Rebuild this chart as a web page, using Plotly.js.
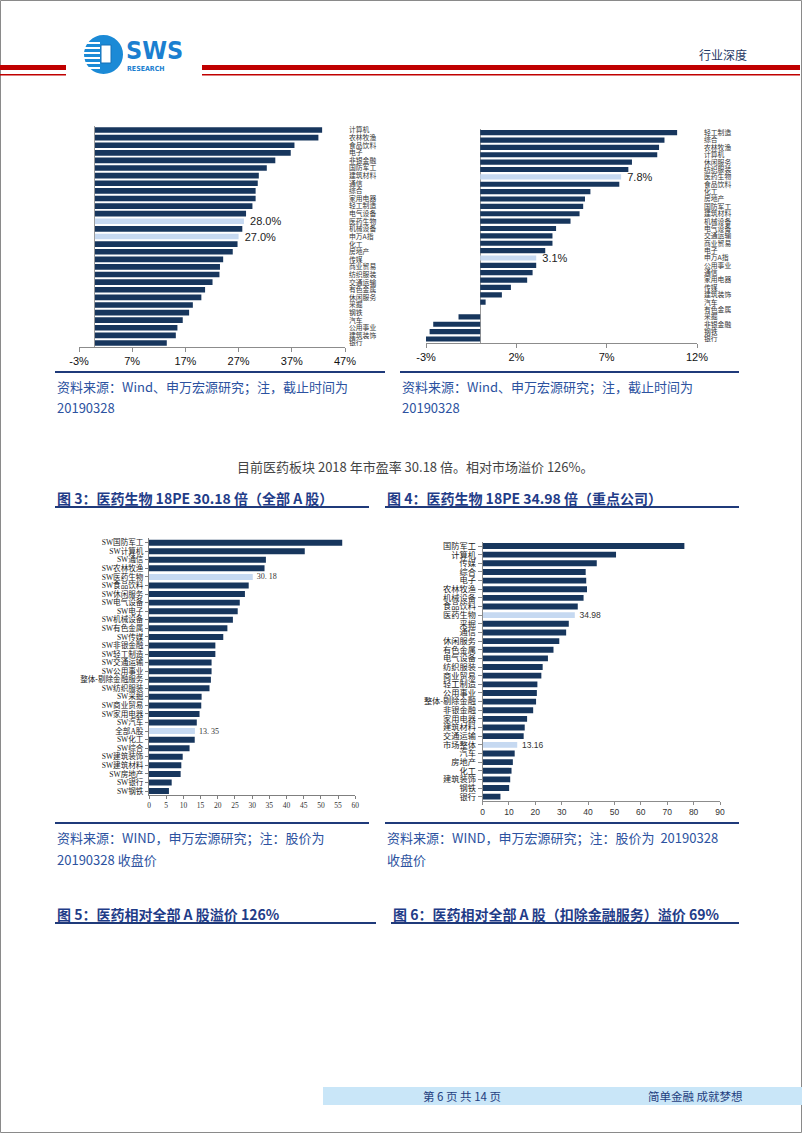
<!DOCTYPE html>
<html><head><meta charset="utf-8">
<script src="https://cdn.plot.ly/plotly-3.0.1.min.js"></script>
<style>html,body{margin:0;padding:0;background:#fff;}#page{width:802px;height:1133px;}</style>
</head><body><div id="page"></div>
<script>
// ---------- DATA ----------
const c1Cats = ['计算机','农林牧渔','食品饮料','电子','非银金融','国防军工','建筑材料','通信','综合','家用电器','轻工制造','电气设备','医药生物','机械设备','申万A指','化工','房地产','传媒','商业贸易','纺织服装','交通运输','有色金属','休闲服务','采掘','钢铁','汽车','公用事业','建筑装饰','银行'];
const c1Vals = [42.7,42.0,37.5,36.8,33.9,32.3,30.8,30.6,30.2,30.2,29.6,28.4,28.0,27.7,27.0,26.8,25.9,24.1,23.5,23.4,22.1,20.7,20.0,18.4,17.7,16.5,15.5,15.2,13.5];
const c1Highlight = ['医药生物','申万A指'];
const c1Ticks = [-3,7,17,27,37,47];

const c2Cats = ['轻工制造','综合','农林牧渔','计算机','休闲服务','纺织服装','医药生物','食品饮料','化工','房地产','国防军工','建筑材料','机械设备','电气设备','交通运输','商业贸易','电子','申万A指','公用事业','通信','家用电器','传媒','建筑装饰','汽车','有色金属','采掘','非银金融','钢铁','银行'];
const c2Vals = [10.9,10.2,9.9,9.8,8.4,8.2,7.8,7.7,6.1,5.8,5.7,5.5,5.0,4.2,4.0,4.0,3.6,3.1,3.1,2.9,2.6,1.7,1.2,0.3,0.0,-1.2,-2.6,-2.8,-3.0];
const c2Highlight = ['医药生物','申万A指'];
const c2Ticks = [-3,2,7,12];

const c3Cats = ['SW国防军工','SW计算机','SW通信','SW农林牧渔','SW医药生物','SW食品饮料','SW休闲服务','SW电气设备','SW电子','SW机械设备','SW有色金属','SW传媒','SW非银金融','SW轻工制造','SW交通运输','SW公用事业','整体-剔除金融服务','SW纺织服装','SW采掘','SW商业贸易','SW家用电器','SW汽车','全部A股','SW化工','SW综合','SW建筑装饰','SW建筑材料','SW房地产','SW银行','SW钢铁'];
const c3Vals = [56.2,45.3,34.0,33.6,30.18,29.0,27.9,26.4,25.8,24.4,22.8,21.6,19.3,19.3,18.2,18.2,18.0,17.6,15.3,15.2,14.7,13.9,13.35,13.3,11.8,9.8,9.4,9.2,6.6,5.8];
const c3Highlight = ['SW医药生物','全部A股'];

const c4Cats = ['国防军工','计算机','传媒','综合','电子','农林牧渔','机械设备','食品饮料','医药生物','采掘','通信','休闲服务','有色金属','电气设备','纺织服装','商业贸易','轻工制造','公用事业','整体-剔除金融','非银金融','家用电器','建筑材料','交通运输','市场整体','汽车','房地产','化工','建筑装饰','钢铁','银行'];
const c4Vals = [76.5,50.6,43.3,39.1,39.3,39.6,38.3,36.1,34.98,32.7,31.7,29.1,26.9,24.8,22.8,22.3,20.8,20.6,20.3,19.2,16.9,16.0,15.6,13.16,12.2,11.5,11.0,10.5,10.1,6.8];
const c4Highlight = ['医药生物','市场整体'];

// ---------- STYLE ----------
const W = 802, H = 1133;
const px = x => x / W, py = y => 1 - y / H;
const dx = (a, b) => [a / W, b / W];
const dy = (t, b) => [1 - b / H, 1 - t / H];
const NAVY = '#17365d', LIGHT = '#c6d9f1';
const CJK = '"Noto Sans CJK SC", "Noto Sans", sans-serif';
const SERIF = '"Liberation Serif", "Noto Sans CJK SC", serif';
const ARIAL = '"Liberation Sans", Arial, "Noto Sans CJK SC", sans-serif';
const NB = '\u00a0\u00a0';

function barTrace(cats, vals, hl, fmt, ax, width, tfont) {
  return {
    type: 'bar', orientation: 'h', x: vals, y: cats,
    xaxis: 'x' + ax, yaxis: 'y' + ax, width: width,
    marker: { color: cats.map(c => hl.includes(c) ? LIGHT : NAVY), line: { width: 0 } },
    text: cats.map((c, i) => hl.includes(c) ? NB + fmt(vals[i]) : ''),
    textposition: 'outside', cliponaxis: false, constraintext: 'none',
    textfont: tfont, hoverinfo: 'skip'
  };
}

const data = [
  barTrace(c1Cats, c1Vals, c1Highlight, v => v.toFixed(1) + '%', '', 0.74, { family: ARIAL, size: 11, color: '#222' }),
  barTrace(c2Cats, c2Vals, c2Highlight, v => v.toFixed(1) + '%', '2', 0.70, { family: ARIAL, size: 11, color: '#222' }),
  barTrace(c3Cats, c3Vals, c3Highlight, v => v.toFixed(2).replace('.', '. '), '3', 0.70, { family: SERIF, size: 8, color: '#333' }),
  barTrace(c4Cats, c4Vals, c4Highlight, v => v.toFixed(2), '4', 0.68, { family: ARIAL, size: 8.5, color: '#333' })
];
data[0].xaxis = 'x'; data[0].yaxis = 'y';

const baseX = { showgrid: false, showline: true, linecolor: '#8c8c8c', linewidth: 1, ticks: 'outside', ticklen: 4, tickcolor: '#8c8c8c', fixedrange: true };
const baseY = { type: 'category', autorange: 'reversed', showgrid: false, zeroline: false, fixedrange: true, tickmode: 'linear', tick0: 0, dtick: 1 };

const layout = {
  width: W, height: H, margin: { l: 0, r: 0, t: 0, b: 0 },
  paper_bgcolor: '#fff', plot_bgcolor: 'rgba(0,0,0,0)', showlegend: false,
  xaxis: Object.assign({}, baseX, { domain: dx(79, 345), range: [-3, 47], anchor: 'y', tickvals: c1Ticks, ticktext: c1Ticks.map(t => t + '%'), tickmode: 'array',
    zeroline: true, zerolinecolor: '#9a9a9a', zerolinewidth: 1, tickfont: { family: ARIAL, size: 11, color: '#111' } }),
  yaxis: Object.assign({}, baseY, { domain: dy(126.2, 346.8), anchor: 'x', side: 'right', showline: false, ticks: '', ticklabelstandoff: 3,
    tickfont: { family: CJK, size: 6.8, color: '#333' } }),
  xaxis2: Object.assign({}, baseX, { domain: dx(426, 697), range: [-3, 12], anchor: 'y2', tickvals: c2Ticks, ticktext: c2Ticks.map(t => t + '%'), tickmode: 'array',
    zeroline: true, zerolinecolor: '#9a9a9a', zerolinewidth: 1, tickfont: { family: ARIAL, size: 11, color: '#111' } }),
  yaxis2: Object.assign({}, baseY, { domain: dy(129, 342.7), anchor: 'x2', side: 'right', showline: false, ticks: '', ticklabelstandoff: 6,
    tickfont: { family: CJK, size: 6.8, color: '#333' } }),
  xaxis3: Object.assign({}, baseX, { domain: dx(149, 355.3), range: [0, 60], dtick: 5, tick0: 0, anchor: 'y3', zeroline: false, ticklen: 3,
    linecolor: '#7f7f7f', tickcolor: '#7f7f7f', tickfont: { family: SERIF, size: 7.5, color: '#333' } }),
  yaxis3: Object.assign({}, baseY, { domain: dy(538.4, 795.3), anchor: 'x3', showline: true, linecolor: '#7f7f7f', ticks: 'outside', ticklen: 3, tickcolor: '#7f7f7f',
    tickfont: { family: SERIF, size: 7.6, color: '#222' } }),
  xaxis4: Object.assign({}, baseX, { domain: dx(482.5, 720), range: [0, 90], dtick: 10, tick0: 0, anchor: 'y4', zeroline: false, ticklen: 3,
    linecolor: '#8c8c8c', tickfont: { family: ARIAL, size: 8.5, color: '#333' } }),
  yaxis4: Object.assign({}, baseY, { domain: dy(541.7, 801), anchor: 'x4', showline: true, linecolor: '#8c8c8c', ticks: 'outside', ticklen: 4, tickcolor: '#8c8c8c',
    tickfont: { family: CJK, size: 8.2, color: '#222' } }),
  annotations: [], shapes: []
};

// ---------- PAGE DECORATION ----------
const A = layout.annotations, S = layout.shapes;
function txt(t, x, y, size, color, opts) {
  A.push(Object.assign({ text: t, x: px(x), y: py(y), xref: 'paper', yref: 'paper', xanchor: 'left', yanchor: 'middle',
    showarrow: false, font: { family: CJK, size: size, color: color } }, opts || {}));
}
function rect(x0, y0, x1, y1, fill, line) {
  S.push({ type: 'rect', xref: 'paper', yref: 'paper', x0: px(x0), x1: px(x1), y0: py(y0), y1: py(y1),
    fillcolor: fill, line: line || { width: 0 }, layer: 'above' });
}
function hline(x0, x1, y, color, w) {
  S.push({ type: 'line', xref: 'paper', yref: 'paper', x0: px(x0), x1: px(x1), y0: py(y), y1: py(y), line: { color: color, width: w } });
}

// page frame
rect(0.5, 0.5, 801.5, 1132.5, 'rgba(0,0,0,0)', { color: '#8a8a8a', width: 1 });
// header red lines
rect(0, 65, 66, 70, '#c00000'); rect(0, 74, 66, 75.5, '#c00000');
rect(202, 65, 800, 70, '#c00000'); rect(202, 74, 800, 75.5, '#c00000');
// logo
S.push({ type: 'circle', xref: 'paper', yref: 'paper', x0: px(84), x1: px(123), y0: py(35), y1: py(74), fillcolor: '#1b8ad6', line: { width: 0 }, layer: 'above' });
[42, 47, 52, 57, 62, 67].forEach(y => rect(83, y, 100, y + 2, '#ffffff'));
rect(101, 45, 111, 63, '#ffffff', { color: '#1570b8', width: 1 });
const LOGOF = '"Liberation Sans Narrow", "DejaVu Sans Condensed", "Liberation Sans", sans-serif';
txt('<b>SWS</b>', 124, 50, 25, '#1b7fd0', { font: { family: LOGOF, size: 25, color: '#1b7fd0' } });
txt('<b>RESEARCH</b>', 125, 69.5, 7, '#1b7fd0', { font: { family: LOGOF, size: 7, color: '#1b7fd0' } });
txt('行业深度', 697, 55, 12, '#1f3864');

const SRC = '#2c52a0', TTL = '#1f3c88', LINE = '#1f3a7a';
// chart 1/2 bottoms & sources
hline(55, 385, 372, LINE, 2); hline(400, 739, 372, LINE, 2);
txt('资料来源：Wind、申万宏源研究；注，截止时间为', 55, 386.7, 13, SRC);
txt('20190328', 55, 407.7, 13, SRC);
txt('资料来源：Wind、申万宏源研究；注，截止时间为', 400, 386.7, 13, SRC);
txt('20190328', 400, 407.7, 13, SRC);
// body sentence
txt('目前医药板块 2018 年市盈率 30.18 倍。相对市场溢价 126%。', 235, 466, 13, '#444');
// figure 3/4 titles
txt('<b>图 3：医药生物 18PE 30.18 倍（全部 A 股）</b>', 55, 497.7, 14, TTL);
txt('<b>图 4：医药生物 18PE 34.98 倍（重点公司）</b>', 385, 497.7, 14, TTL);
hline(55, 369, 507, LINE, 2); hline(385, 739, 507, LINE, 2);
// chart 3/4 bottoms & sources
hline(55, 369, 823, LINE, 2); hline(385, 739, 823, LINE, 2);
txt('资料来源：WIND，申万宏源研究；注：股价为', 55, 837, 13, SRC);
txt('20190328 收盘价', 55, 859, 13, SRC);
txt('资料来源：WIND，申万宏源研究；注：股价为  20190328', 385, 837, 13, SRC);
txt('收盘价', 385, 859, 13, SRC);
// figure 5/6 titles
txt('<b>图 5：医药相对全部 A 股溢价 126%</b>', 55, 914, 14, TTL);
txt('<b>图 6：医药相对全部 A 股（扣除金融服务）溢价 69%</b>', 391, 914, 14, TTL);
hline(55, 376, 923, LINE, 2); hline(391, 739, 923, LINE, 2);
// footer
rect(323, 1087, 802, 1105, '#c9e6f8');
txt('第 6 页 共 14 页', 462, 1096, 11.5, '#1f3f7f', { xanchor: 'center' });
txt('简单金融 成就梦想', 695, 1096, 11.5, '#1f3f7f', { xanchor: 'center' });

Plotly.newPlot('page', data, layout, { staticPlot: true, displayModeBar: false });
</script></body></html>
